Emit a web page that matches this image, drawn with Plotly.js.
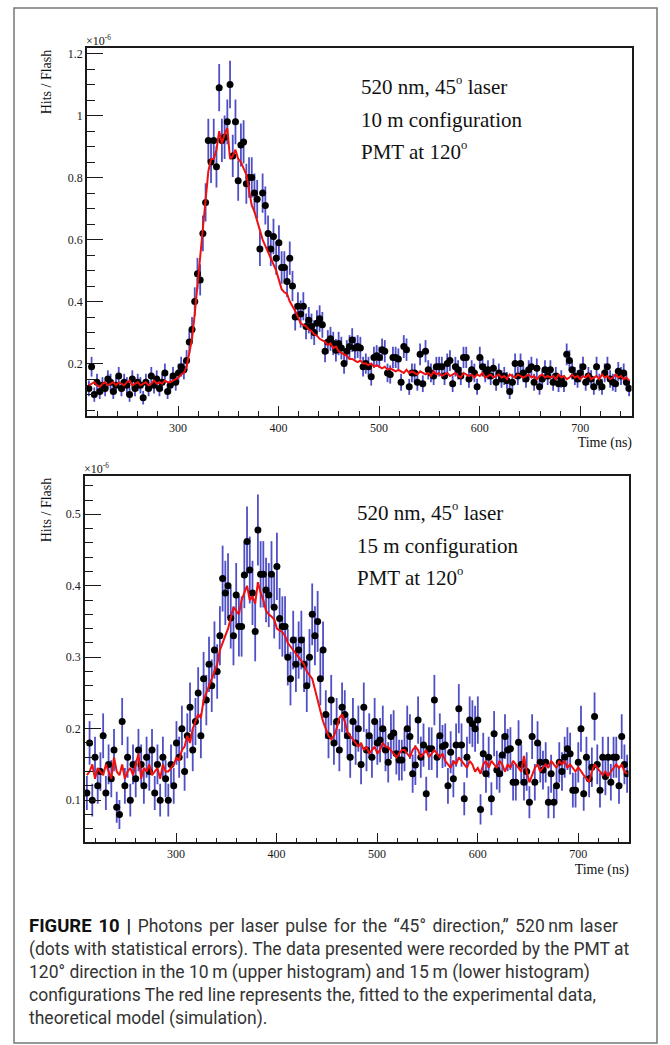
<!DOCTYPE html>
<html><head><meta charset="utf-8">
<script src="https://cdn.plot.ly/plotly-3.0.1.min.js"></script>
<style>
html,body{margin:0;padding:0;background:#fff;}
#chart{position:absolute;left:0;top:0;width:670px;height:1045px;}
#cap{position:absolute;left:29px;top:915px;width:635px;font-family:Roboto,"Liberation Sans",sans-serif;font-size:17.5px;line-height:23px;color:#333;white-space:nowrap;}
#cap b{color:#111;font-size:18.5px;}
#cap .l1{word-spacing:2.2px;}
.lbl{position:absolute;font-family:"Liberation Serif","Times New Roman",serif;color:#111;white-space:nowrap;line-height:1;}
.lbl sup{font-size:0.6em;line-height:0;vertical-align:0.75em;}
</style>
</head><body>
<div id="chart"></div>
<div id="labels"></div>
<div id="cap"><span class="l1"><b>FIGURE 10 |</b> Photons per laser pulse for the “45° direction,” 520&#8201;nm laser</span><br>(dots with statistical errors). The data presented were recorded by the PMT at<br>120° direction in the 10&#8201;m (upper histogram) and 15&#8201;m (lower histogram)<br>configurations The red line represents the, fitted to the experimental data,<br>theoretical model (simulation).</div>
<script>
// Histogram binning (ns)
const binStart = 210, binWidth = 2.7, nBins = 200;

// Upper histogram (10 m), Hits/Flash in units of 1e-6
const topData = [
0.12,0.19,0.10,0.14,0.11,0.13,0.12,0.15,0.14,0.11,
0.13,0.16,0.12,0.14,0.13,0.10,0.15,0.12,0.14,0.13,
0.09,0.14,0.12,0.16,0.13,0.15,0.12,0.14,0.17,0.11,
0.13,0.16,0.14,0.17,0.19,0.18,0.21,0.27,0.31,0.40,
0.49,0.47,0.62,0.72,0.92,0.85,0.92,0.835,1.09,0.92,
0.93,0.98,1.10,0.87,0.98,0.79,0.905,0.915,0.78,0.80,
0.80,0.75,0.73,0.57,0.75,0.71,0.62,0.57,0.61,0.54,
0.59,0.51,0.51,0.465,0.54,0.45,0.35,0.385,0.36,0.385,
0.32,0.34,0.32,0.30,0.33,0.345,0.325,0.24,0.27,0.28,
0.265,0.243,0.265,0.25,0.20,0.24,0.255,0.276,0.25,0.255,
0.25,0.19,0.20,0.19,0.158,0.22,0.225,0.22,0.245,0.24,
0.17,0.165,0.22,0.22,0.215,0.14,0.255,0.245,0.125,0.17,
0.17,0.14,0.23,0.135,0.24,0.18,0.17,0.16,0.19,0.19,
0.19,0.16,0.20,0.21,0.135,0.19,0.18,0.16,0.22,0.22,
0.15,0.18,0.17,0.125,0.22,0.19,0.17,0.18,0.16,0.185,
0.14,0.17,0.15,0.16,0.145,0.11,0.14,0.20,0.16,0.20,
0.17,0.15,0.18,0.19,0.14,0.185,0.125,0.15,0.18,0.16,
0.18,0.14,0.16,0.135,0.15,0.135,0.23,0.21,0.18,0.16,
0.15,0.17,0.19,0.14,0.16,0.15,0.125,0.19,0.14,0.125,
0.17,0.19,0.15,0.14,0.135,0.175,0.16,0.17,0.14,0.12];
const topModel = [
0.13,0.135,0.14,0.13,0.125,0.135,0.14,0.13,0.135,0.14,
0.13,0.14,0.135,0.13,0.14,0.145,0.13,0.135,0.14,0.13,
0.135,0.14,0.13,0.135,0.145,0.135,0.14,0.135,0.145,0.14,
0.14,0.145,0.15,0.155,0.165,0.17,0.19,0.23,0.28,0.36,
0.45,0.55,0.65,0.74,0.82,0.86,0.86,0.89,0.95,0.91,
0.94,0.96,0.86,0.87,0.89,0.86,0.85,0.83,0.81,0.76,
0.71,0.69,0.66,0.63,0.60,0.58,0.56,0.54,0.52,0.50,
0.47,0.44,0.43,0.425,0.40,0.385,0.37,0.35,0.33,0.325,
0.32,0.31,0.305,0.295,0.29,0.28,0.275,0.27,0.26,0.265,
0.25,0.255,0.24,0.235,0.23,0.225,0.215,0.215,0.21,0.205,
0.21,0.20,0.20,0.195,0.20,0.19,0.195,0.19,0.185,0.19,
0.18,0.185,0.18,0.175,0.18,0.175,0.17,0.18,0.17,0.175,
0.17,0.165,0.175,0.17,0.165,0.17,0.16,0.175,0.165,0.17,
0.16,0.165,0.17,0.16,0.165,0.17,0.16,0.155,0.17,0.165,
0.16,0.165,0.155,0.165,0.16,0.17,0.155,0.16,0.165,0.155,
0.16,0.165,0.155,0.16,0.15,0.165,0.16,0.155,0.165,0.16,
0.155,0.16,0.165,0.155,0.16,0.15,0.16,0.165,0.155,0.16,
0.155,0.16,0.15,0.165,0.155,0.16,0.15,0.155,0.165,0.155,
0.16,0.15,0.16,0.155,0.165,0.15,0.155,0.16,0.15,0.165,
0.155,0.16,0.15,0.155,0.165,0.155,0.16,0.15,0.155,0.145];

// Lower histogram (15 m)
const botData = [
0.11,0.18,0.10,0.16,0.12,0.14,0.19,0.11,0.15,0.13,
0.17,0.09,0.08,0.21,0.12,0.16,0.10,0.15,0.13,0.17,
0.15,0.12,0.16,0.14,0.17,0.11,0.15,0.10,0.16,0.13,
0.10,0.15,0.12,0.18,0.16,0.20,0.14,0.19,0.23,0.17,
0.21,0.25,0.19,0.27,0.24,0.29,0.26,0.31,0.28,0.33,
0.41,0.39,0.40,0.355,0.33,0.387,0.343,0.343,0.415,0.462,
0.422,0.39,0.336,0.478,0.416,0.416,0.394,0.387,0.416,0.37,
0.427,0.354,0.343,0.343,0.30,0.27,0.324,0.29,0.31,0.324,
0.29,0.26,0.30,0.36,0.33,0.35,0.27,0.31,0.22,0.19,
0.24,0.18,0.21,0.17,0.23,0.22,0.19,0.16,0.21,0.18,
0.20,0.15,0.23,0.17,0.19,0.16,0.21,0.18,0.184,0.20,
0.17,0.153,0.189,0.194,0.165,0.156,0.156,0.17,0.20,0.189,
0.137,0.149,0.212,0.16,0.177,0.109,0.172,0.172,0.24,0.16,
0.19,0.175,0.177,0.12,0.167,0.13,0.177,0.228,0.177,0.102,
0.16,0.212,0.207,0.20,0.212,0.087,0.165,0.137,0.16,0.102,
0.193,0.142,0.137,0.163,0.189,0.17,0.172,0.125,0.125,0.181,
0.15,0.125,0.14,0.097,0.189,0.125,0.18,0.153,0.142,0.153,
0.097,0.137,0.097,0.12,0.153,0.14,0.16,0.172,0.165,0.114,
0.114,0.153,0.20,0.109,0.16,0.13,0.146,0.217,0.15,0.114,
0.16,0.133,0.16,0.125,0.16,0.16,0.12,0.189,0.15,0.137];
const botModel = [
0.135,0.14,0.15,0.13,0.145,0.14,0.135,0.15,0.14,0.13,
0.16,0.14,0.135,0.15,0.13,0.14,0.145,0.135,0.15,0.165,
0.13,0.145,0.14,0.15,0.135,0.14,0.145,0.13,0.15,0.14,
0.14,0.145,0.15,0.16,0.155,0.17,0.175,0.19,0.18,0.20,
0.21,0.22,0.215,0.24,0.25,0.26,0.27,0.28,0.29,0.31,
0.32,0.33,0.34,0.355,0.37,0.365,0.36,0.38,0.39,0.40,
0.38,0.385,0.375,0.405,0.39,0.38,0.365,0.36,0.357,0.353,
0.34,0.338,0.335,0.33,0.32,0.315,0.31,0.305,0.30,0.295,
0.29,0.28,0.275,0.27,0.255,0.24,0.225,0.21,0.20,0.19,
0.185,0.19,0.20,0.215,0.22,0.21,0.195,0.19,0.185,0.18,
0.175,0.18,0.17,0.175,0.165,0.17,0.175,0.165,0.17,0.18,
0.175,0.174,0.17,0.165,0.16,0.165,0.17,0.17,0.165,0.16,
0.17,0.175,0.17,0.16,0.165,0.17,0.16,0.165,0.17,0.165,
0.16,0.165,0.155,0.15,0.145,0.155,0.15,0.16,0.155,0.15,
0.145,0.155,0.15,0.14,0.145,0.137,0.15,0.155,0.145,0.155,
0.15,0.145,0.155,0.15,0.14,0.15,0.145,0.155,0.15,0.145,
0.14,0.162,0.14,0.125,0.135,0.145,0.15,0.14,0.146,0.15,
0.145,0.155,0.15,0.145,0.155,0.15,0.155,0.145,0.15,0.145,
0.14,0.146,0.14,0.135,0.13,0.125,0.14,0.15,0.145,0.14,
0.135,0.14,0.133,0.14,0.145,0.15,0.145,0.15,0.14,0.137];

// statistical error scale (Poisson: err = k*sqrt(value))
const topErrK = 0.073, botErrK = 0.072;

const xTickLabels = ['300','400','500','600','700'];
const topYTicks = ['0.2','0.4','0.6','0.8','1','1.2'];
const botYTicks = ['0.1','0.2','0.3','0.4','0.5'];

// Texts
const yTitle = 'Hits / Flash';
const xTitle = 'Time (ns)';
const expLabel = '×10<sup>-6</sup>';
const topNotes = ['520 nm, 45<sup>o</sup> laser', '10 m configuration', 'PMT at 120<sup>o</sup>'];
const botNotes = ['520 nm, 45<sup>o</sup> laser', '15 m configuration', 'PMT at 120<sup>o</sup>'];

const centers = Array.from({length:nBins},(_, i)=> binStart + binWidth*(i+0.5));
const topErr = topData.map(v => topErrK*Math.sqrt(v));
const botErr = botData.map(v => botErrK*Math.sqrt(v));

const W = 670, H = 1045;
const px = x => x/W, py = y => 1 - y/H;

const serif = 'Liberation Serif, Times New Roman, serif';
const ink = '#1a1a1a';
const errCol = '#4f4fc6';
const redCol = '#ee1111';

function dataTrace(y, err, xa, ya){
  return {x: centers, y: y, type:'scatter', mode:'markers', xaxis:xa, yaxis:ya,
    marker:{color:'#000', size:7}, hoverinfo:'skip',
    error_y:{type:'data', array: err, visible:true, color: errCol, thickness:1.8, width:0}};
}
function modelTrace(y, xa, ya){
  return {x: centers, y: y, type:'scatter', mode:'lines', xaxis:xa, yaxis:ya,
    line:{color: redCol, width:2}, hoverinfo:'skip'};
}

function xAxis(domain, range, anchor){
  return {domain: domain, range: range, anchor: anchor, showline:true, mirror:true,
    linecolor: ink, linewidth:1.5, ticks:'inside', ticklen:10, tickwidth:1.2, tickcolor: ink,
    tickmode:'array', tickvals: xTickLabels.map(Number), ticktext: xTickLabels,
    minor:{dtick:20, tick0:0, ticks:'inside', ticklen:5, tickcolor: ink, tickwidth:1.2},
    showgrid:false, zeroline:false, fixedrange:true, tickfont:{family: serif, size:12, color: ink}};
}
function yAxis(domain, range, anchor, labels, minorDt){
  return {domain: domain, range: range, anchor: anchor, showline:true, mirror:true,
    linecolor: ink, linewidth:1.5, ticks:'inside', ticklen:16, tickwidth:1.2, tickcolor: ink,
    tickmode:'array', tickvals: labels.map(Number), ticktext: labels,
    minor:{dtick:minorDt, tick0:0, ticks:'inside', ticklen:8, tickcolor: ink, tickwidth:1.2},
    showgrid:false, zeroline:false, fixedrange:true, tickfont:{family: serif, size:12, color: ink}};
}

const layout = {
  width: W, height: H, margin:{l:0,r:0,t:0,b:0}, paper_bgcolor:'#fff', plot_bgcolor:'#fff',
  showlegend:false, dragmode:false,
  xaxis: xAxis([px(87), px(631.5)], [209.5, 751], 'y'),
  yaxis: yAxis([py(416), py(47.7)], [0.031, 1.219], 'x', topYTicks, 0.05),
  xaxis2: xAxis([px(85), px(628.5)], [209.5, 750], 'y2'),
  yaxis2: yAxis([py(842.3), py(475.7)], [0.041, 0.554], 'x2', botYTicks, 0.02),
  shapes: [{type:'rect', xref:'paper', yref:'paper', x0: px(14), x1: px(657), y0: py(1043), y1: py(8),
    line:{color:'#777', width:1.5}, fillcolor:'rgba(0,0,0,0)', layer:'below'}]
};

Plotly.newPlot('chart', [
  dataTrace(topData, topErr, 'x', 'y'), modelTrace(topModel, 'x', 'y'),
  dataTrace(botData, botErr, 'x2', 'y2'), modelTrace(botModel, 'x2', 'y2')
], layout, {displayModeBar:false, responsive:false});

// Text labels as HTML overlay (left/center/right anchored, vertically centred)
const host = document.getElementById('labels');
function addLabel(html, x, y, size, anchor, rotate){
  const d = document.createElement('div');
  d.className = 'lbl';
  d.innerHTML = html;
  d.style.fontSize = size + 'px';
  d.style.top = y + 'px';
  if (rotate) {
    d.style.left = x + 'px';
    d.style.transform = 'translate(-50%,-50%) rotate(-90deg)';
  } else if (anchor === 'right') {
    d.style.right = (W - x) + 'px';
    d.style.transform = 'translateY(-50%)';
  } else {
    d.style.left = x + 'px';
    d.style.transform = 'translateY(-50%)';
  }
  host.appendChild(d);
}
topNotes.forEach((t, i) => addLabel(t, 361, [87, 120, 152][i], 21, 'left'));
botNotes.forEach((t, i) => addLabel(t, 357, [513, 546, 578][i], 21, 'left'));
addLabel(yTitle, 47, 82, 14, 'center', true);
addLabel(yTitle, 47, 510, 14, 'center', true);
addLabel(expLabel, 86, 41, 12, 'left');
addLabel(expLabel, 84, 469, 12, 'left');
addLabel(xTitle, 632, 443, 14, 'right');
addLabel(xTitle, 629, 870, 14, 'right');
</script>
</body></html>
